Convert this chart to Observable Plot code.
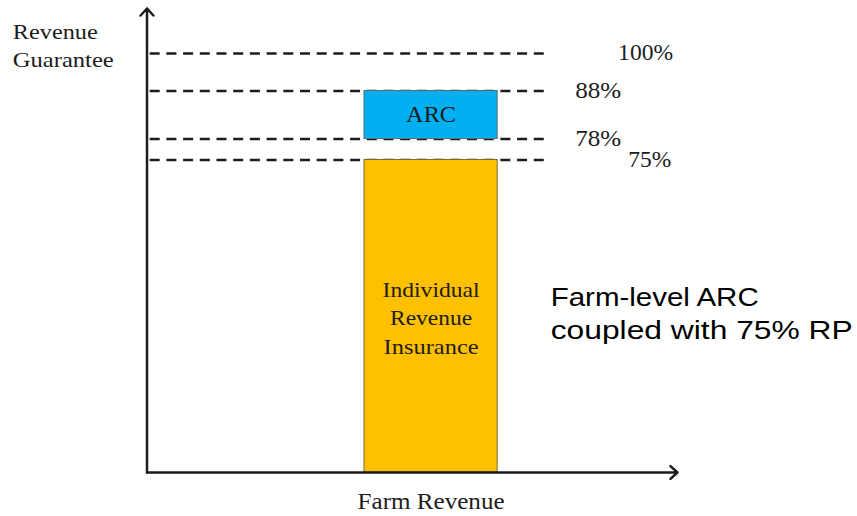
<!DOCTYPE html>
<html>
<head>
<meta charset="utf-8">
<script src="https://cdn.jsdelivr.net/npm/d3@7"></script>
<script src="https://cdn.jsdelivr.net/npm/@observablehq/plot@0.6"></script>
<style>
  html, body { margin: 0; padding: 0; background: #fff; }
</style>
</head>
<body>
<div id="chart"></div>
<script>
// ---- data ----
const levels = [100, 88, 78, 75];
const levelLabels = ["100%", "88%", "78%", "75%"];
const arcBand = [78, 88];          // ARC coverage band (% of guarantee)
const insuranceBand = [0, 75];     // Individual revenue insurance band
const barSpan = [41, 66.1];        // farm revenue span of the bars
const dashSpan = [0.6, 76];        // extent of guarantee lines
const axisXMax = 100;
const axisYMax = 114.4;
const yLabel = "Revenue\nGuarantee";
const xLabel = "Farm Revenue";
const arcLabel = "ARC";
const insuranceLabel = "Individual\nRevenue\nInsurance";
const note = "Farm-level ARC\ncoupled with 75% RP";

const serif = "'Liberation Serif', 'Times New Roman', serif";
const sans = "'Liberation Sans', Arial, sans-serif";
const ink = "#1c1c1c";

const lines = levels.map((v, i) => ({v, label: levelLabels[i]}));

const chart = Plot.plot({
  width: 857,
  height: 516,
  margin: 0,
  style: {background: "white", overflow: "visible"},
  x: {domain: [0, 100], range: [146.5, 677], axis: null},
  y: {type: "linear", domain: [0, 75, 78, 88, 100], range: [472, 159.5, 138.5, 90.5, 53], axis: null},
  marks: [
    // dashed guarantee lines
    Plot.ruleY(lines, {y: "v", x1: dashSpan[0], x2: dashSpan[1], stroke: ink, strokeWidth: 2.5, strokeDasharray: "10,6.7"}),
    // bars
    Plot.rect([insuranceBand], {x1: barSpan[0], x2: barSpan[1], y1: d => d[0], y2: d => d[1], fill: "#FFC000", stroke: "#7a6a3a", strokeWidth: 1, inset: 0}),
    Plot.rect([arcBand], {x1: barSpan[0], x2: barSpan[1], y1: d => d[0], y2: d => d[1], fill: "#00B0F0", stroke: "#5a6a70", strokeWidth: 1, inset: 0}),
    // axes with arrowheads
    Plot.arrow([0], {x1: 0, y1: 0, x2: 0, y2: axisYMax, stroke: ink, strokeWidth: 2.5, headLength: 5.7, headAngle: 85}),
    Plot.arrow([0], {x1: 0, y1: 0, x2: axisXMax, y2: 0, stroke: ink, strokeWidth: 2.5, headLength: 5.7, headAngle: 85}),
    // percentage labels
    Plot.text(lines, {
      x: [88.9, 80.8, 80.8, 90.8], y: "v", dy: [0, 0, -3, 1],
      text: "label", textAnchor: "start", fontFamily: serif, fontSize: 22.5, fill: ink
    }),
    // bar labels
    Plot.text([arcLabel], {
      x: (barSpan[0] + barSpan[1]) / 2, y: (arcBand[0] + arcBand[1]) / 2, text: d => d,
      fontFamily: serif, fontSize: 22.5, fill: ink
    }),
    Plot.text([insuranceLabel], {
      x: (barSpan[0] + barSpan[1]) / 2, y: (insuranceBand[0] + insuranceBand[1]) / 2, text: d => d,
      fontFamily: serif, fontSize: 22, lineHeight: 1.3, fill: ink
    }),
    // axis titles
    Plot.text([yLabel], {
      x: -25.3, y: 102.9, text: d => d, textAnchor: "start",
      fontFamily: serif, fontSize: 21.5, lineHeight: 1.3, fill: ink
    }),
    Plot.text([xLabel], {
      x: (barSpan[0] + barSpan[1]) / 2, y: 0, dy: 29, text: d => d,
      fontFamily: serif, fontSize: 23.5, fill: ink
    }),
    // annotation
    Plot.text([note], {
      x: 76.1, y: 38.6, text: d => d, textAnchor: "start",
      fontFamily: sans, fontSize: 26.5, lineHeight: 1.26, fill: "#000"
    })
  ]
});

document.getElementById("chart").appendChild(chart);

// horizontal stretch of the reference's lettering, in drawing order:
// 100%, 88%, 78%, 75%, ARC, Individual, Revenue, Insurance, Revenue, Guarantee, Farm Revenue, note lines
const targetWidths = [55, 46, 46, 43, 50, 97, 82, 95, 85, 101, 147, 208, 302];
const pieces = [];
d3.select(chart).selectAll("text").each(function () {
  const t = this.querySelectorAll("tspan");
  if (t.length) t.forEach(s => pieces.push(s));
  else pieces.push(this);
});
pieces.forEach((el, i) => {
  if (targetWidths[i] != null) {
    el.setAttribute("textLength", targetWidths[i]);
    el.setAttribute("lengthAdjust", "spacingAndGlyphs");
  }
});
</script>
</body>
</html>
